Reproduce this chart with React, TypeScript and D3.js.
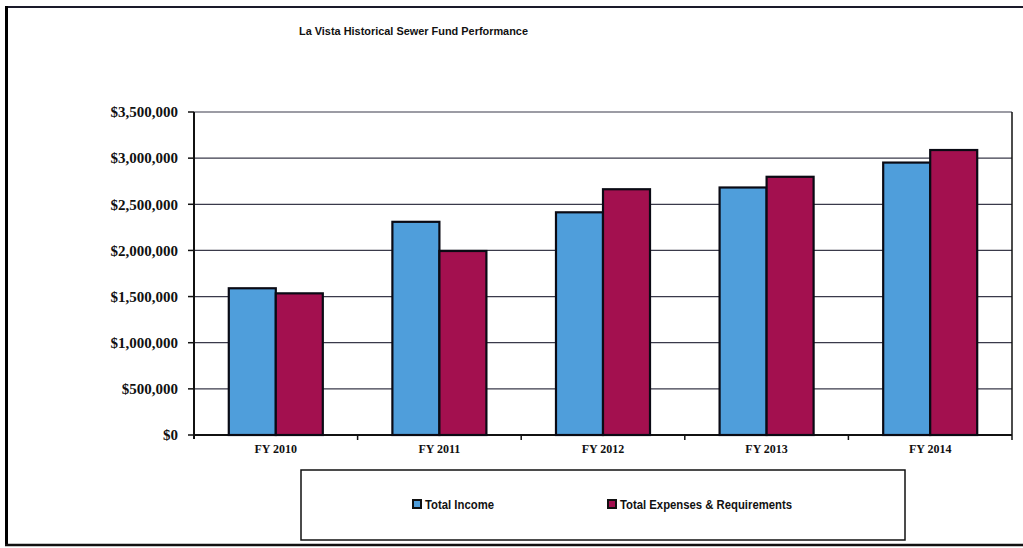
import React from "react";
import * as d3 from "d3";

const title = "La Vista Historical Sewer Fund Performance";
const years = ["FY 2010", "FY 2011", "FY 2012", "FY 2013", "FY 2014"];
const seriesNames = ["Total Income", "Total Expenses & Requirements"];
const totalIncome = [1590000, 2310000, 2413000, 2682000, 2952000];
const totalExpenses = [1535000, 1994000, 2663000, 2798000, 3088000];
const yTicks = [0, 500000, 1000000, 1500000, 2000000, 2500000, 3000000, 3500000];

const colors = ["#4f9edb", "#a3104f"];

export default function App() {
  const W = 1023;
  const H = 548;
  const left = 194;
  const right = 1012;
  const top = 112;
  const bottom = 435;

  const y = d3.scaleLinear().domain([0, 3500000]).range([bottom, top]);
  const x0 = d3.scaleBand<string>().domain(years).range([left, right]).padding(0);
  const x1 = d3
    .scaleBand<string>()
    .domain(seriesNames)
    .range([0, x0.bandwidth()])
    .paddingInner(0)
    .paddingOuter(0.74);
  const fmt = (v: number) => "$" + d3.format(",")(v);
  const values = [totalIncome, totalExpenses];
  const legendX = [413, 608];
  const legendW = [69, 172];

  return (
    <svg
      width={W}
      height={H}
      style={{ position: "absolute", left: 0, top: 0, background: "#fff" }}
    >
      {/* outer frame */}
      <line x1={6} y1={7} x2={1023} y2={7} stroke="#1a1a2a" strokeWidth={2} />
      <line x1={6.5} y1={6} x2={6.5} y2={546} stroke="#000" strokeWidth={3} />
      <line x1={5} y1={545} x2={1023} y2={545} stroke="#111" strokeWidth={2.5} />

      <text
        x={299}
        y={35}
        fontFamily="Liberation Sans, Arial, sans-serif"
        fontWeight="bold"
        fontSize={10.5}
        textLength={229}
        lengthAdjust="spacingAndGlyphs"
        fill="#111"
      >
        {title}
      </text>

      {/* gridlines */}
      {yTicks.map((t) => (
        <g key={t}>
          <line x1={left} x2={right} y1={y(t)} y2={y(t)} stroke="#3a3a4a" strokeWidth={1.2} />
          <line x1={left - 6} x2={left} y1={y(t)} y2={y(t)} stroke="#111" strokeWidth={1.5} />
          <text
            x={178}
            y={y(t)}
            dy="0.35em"
            textAnchor="end"
            fontFamily="Liberation Serif, Times New Roman, serif"
            fontWeight="bold"
            fontSize={15}
            fill="#111"
          >
            {fmt(t)}
          </text>
        </g>
      ))}

      {/* axes */}
      <line x1={left} x2={left} y1={top} y2={bottom + 4} stroke="#111" strokeWidth={2} />
      <line x1={right} x2={right} y1={top} y2={bottom + 5} stroke="#111" strokeWidth={1.5} />
      <line x1={left} x2={right} y1={bottom} y2={bottom} stroke="#111" strokeWidth={2} />
      {years.slice(1).map((yr) => (
        <line
          key={yr}
          x1={x0(yr)!}
          x2={x0(yr)!}
          y1={bottom}
          y2={bottom + 5}
          stroke="#111"
          strokeWidth={1.5}
        />
      ))}

      {/* bars */}
      {years.map((yr, i) => (
        <g key={yr} transform={`translate(${x0(yr)},0)`}>
          {seriesNames.map((s, j) => (
            <rect
              key={s}
              x={x1(s)!}
              y={y(values[j][i])}
              width={x1.bandwidth()}
              height={bottom - y(values[j][i])}
              fill={colors[j]}
              stroke="#0a0a14"
              strokeWidth={2.2}
            />
          ))}
          <text
            x={x0.bandwidth() / 2}
            y={453}
            textAnchor="middle"
            fontFamily="Liberation Serif, Times New Roman, serif"
            fontWeight="bold"
            fontSize={12}
            fill="#111"
          >
            {yr}
          </text>
        </g>
      ))}

      {/* legend */}
      <rect x={301} y={470} width={604} height={70} fill="#fff" stroke="#111" strokeWidth={1.5} />
      {seriesNames.map((s, j) => {
        const lx = legendX[j];
        return (
          <g key={s}>
            <rect x={lx} y={500} width={8} height={8} fill={colors[j]} stroke="#111" strokeWidth={2} />
            <text
              x={lx + 12}
              y={508.5}
              fontFamily="Liberation Sans, Arial, sans-serif"
              fontWeight="bold"
              fontSize={12}
              textLength={legendW[j]}
              lengthAdjust="spacingAndGlyphs"
              fill="#111"
            >
              {s}
            </text>
          </g>
        );
      })}
    </svg>
  );
}
